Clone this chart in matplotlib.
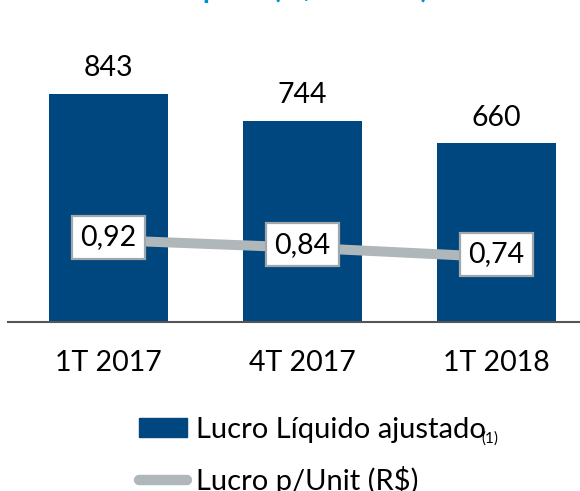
import matplotlib
matplotlib.use('Agg')
from matplotlib import pyplot as plt
from matplotlib.patches import Patch
from matplotlib.lines import Line2D

periods = ['1T 2017', '4T 2017', '1T 2018']
lucro = [843, 744, 660]
lucro_unit = [0.92, 0.84, 0.74]
unit_labels = ['0,92', '0,84', '0,74']

bar_color = '#00467F'
line_color = '#B0B7BA'
plt.rcParams['font.family'] = ['Lato', 'DejaVu Sans']

fig = plt.figure(figsize=(5.8, 4.91), dpi=100)
ax = fig.add_axes([0.0, 0.344, 1.0, 0.575])
x = range(len(periods))
ax.bar(x, lucro, width=0.61, color=bar_color, zorder=2)
for i, v in enumerate(lucro):
    ax.text(i, v + 45, str(v), ha='center', va='bottom', fontsize=20.5)
ax.set_xlim(-0.56, 2.43)
ax.set_ylim(0, 1042)
ax.set_xticks(list(x))
ax.set_xticklabels(periods, fontsize=20.5)
ax.tick_params(axis='x', length=0, pad=20)
ax.set_yticks([])
for s in ['top', 'right', 'left']:
    ax.spines[s].set_visible(False)
ax.spines['bottom'].set_bounds(-0.52, 2.43)
ax.spines['bottom'].set_color('#555555')
ax.spines['bottom'].set_linewidth(1.5)

ax2 = ax.twinx()
ax2.plot(list(x), lucro_unit, color=line_color, linewidth=7.2, zorder=3)
for i, v in enumerate(lucro_unit):
    ax2.text(i, v + 0.03, unit_labels[i], ha='center', va='center', fontsize=20.5,
             bbox=dict(boxstyle='square,pad=0.3', facecolor='white', edgecolor='#A0A8AC', linewidth=1.6))
ax2.set_ylim(0.052, 3.04)
ax2.axis('off')

# title (mostly cut off at the top edge)
fig.text(0.45, 1.024, 'Lucro Líquido (R$ milhões)', ha='center', va='center',
         fontsize=20.5, fontweight='bold', color='#0090D0')

handles = [Patch(facecolor=bar_color, edgecolor=bar_color),
           Line2D([0], [0], color=line_color, linewidth=7.5, solid_capstyle='round')]
fig.legend(handles, ['Lucro Líquido ajustado', 'Lucro p/Unit (R$)'], loc='upper left',
           bbox_to_anchor=(0.195, 0.205), frameon=False, fontsize=21,
           handlelength=1.65, handleheight=0.65, handletextpad=0.3, labelspacing=0.8,
           bbox_transform=fig.transFigure)
fig.text(0.83, 0.098, '(1)', fontsize=11)

fig.savefig('out.png', dpi=100)
